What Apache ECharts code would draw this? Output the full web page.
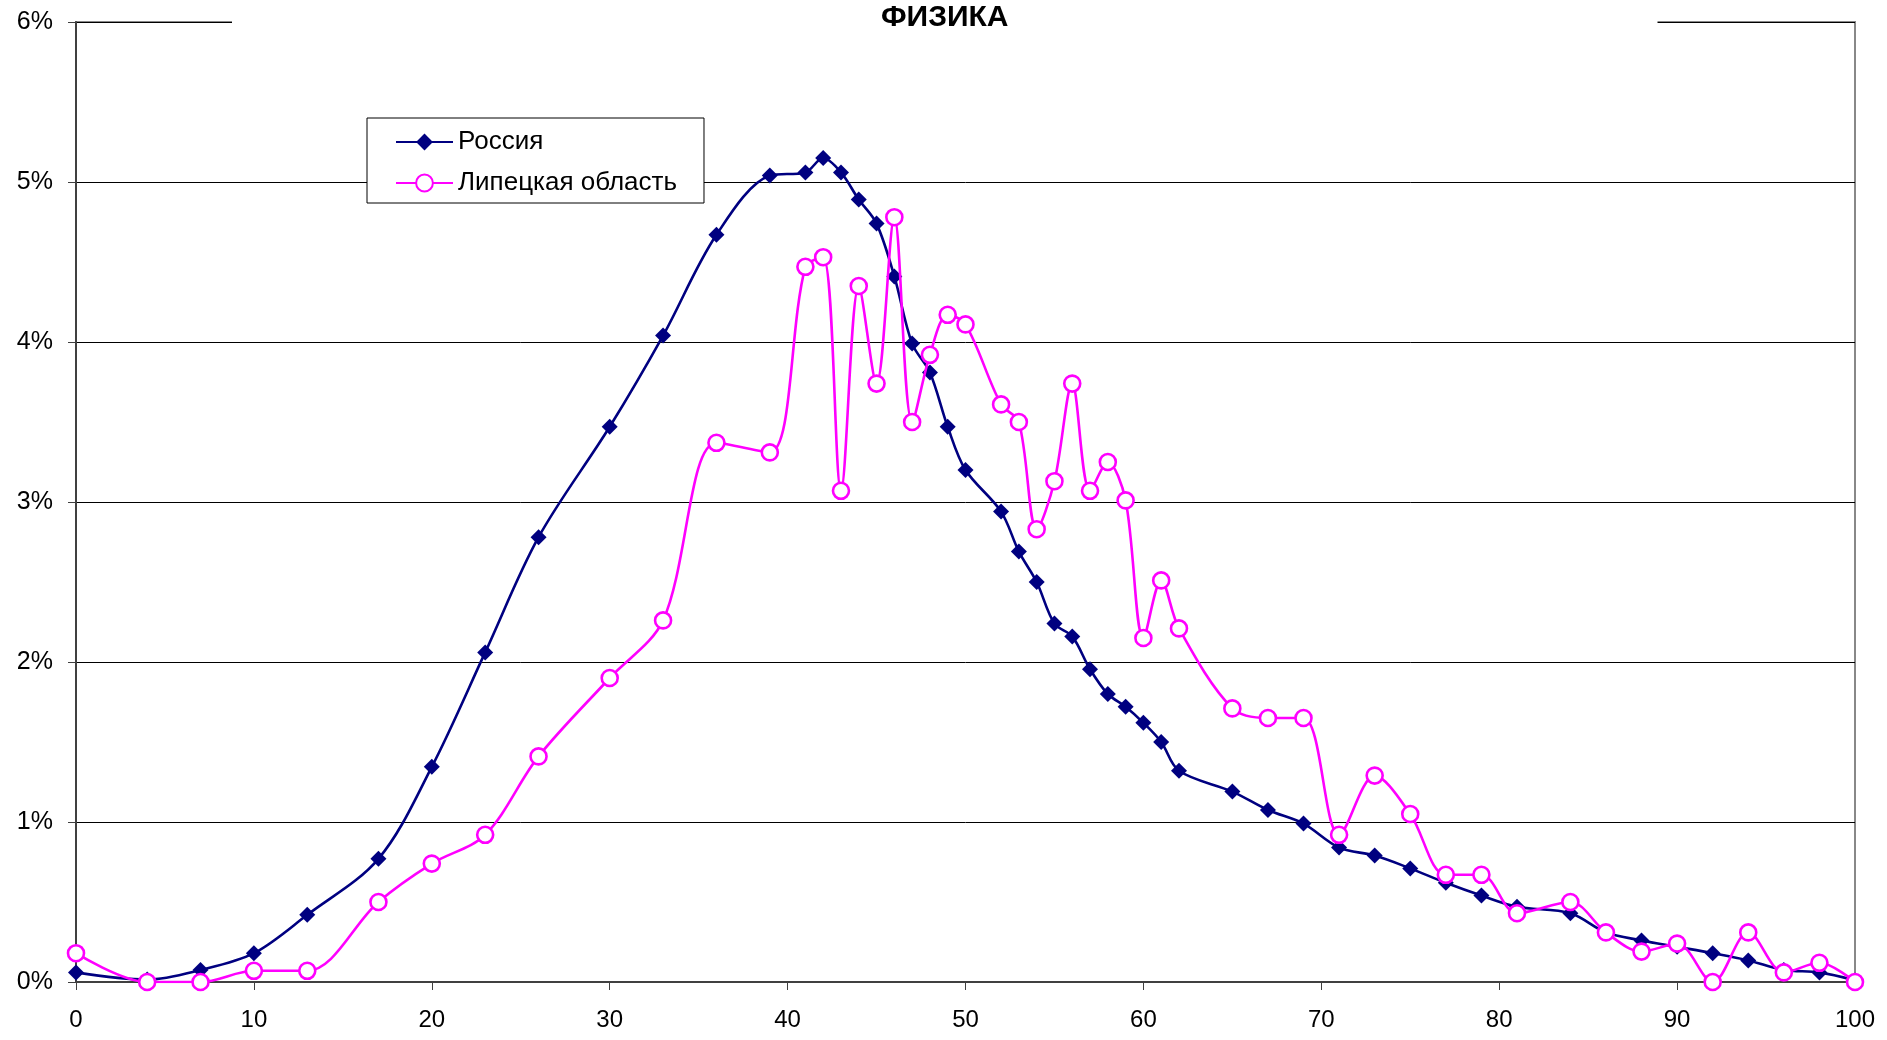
<!DOCTYPE html>
<html>
<head>
<meta charset="utf-8">
<script src="https://cdn.jsdelivr.net/npm/echarts@6/dist/echarts.min.js"></script>
<style>
html,body{margin:0;padding:0;background:#fff;}
#chart{width:1887px;height:1040px;}
</style>
</head>
<body>
<div id="chart"></div>
<script>
const titleText = 'ФИЗИКА';
const seriesNames = ['Россия', 'Липецкая область'];
const scores = [0, 4, 7, 10, 13, 17, 20, 23, 26, 30, 33, 36, 39, 41, 42, 43, 44, 45, 46, 47, 48, 49, 50, 52, 53, 54, 55, 56, 57, 58, 59, 60, 61, 62, 65, 67, 69, 71, 73, 75, 77, 79, 81, 84, 86, 88, 90, 92, 94, 96, 98, 100];
const russia = [0.06, 0.015, 0.075, 0.18, 0.42, 0.77, 1.345, 2.06, 2.78, 3.47, 4.04, 4.67, 5.04, 5.06, 5.15, 5.06, 4.89, 4.74, 4.41, 3.99, 3.81, 3.47, 3.20, 2.94, 2.69, 2.50, 2.24, 2.16, 1.955, 1.80, 1.72, 1.62, 1.50, 1.32, 1.19, 1.075, 0.99, 0.84, 0.79, 0.71, 0.62, 0.54, 0.47, 0.43, 0.31, 0.26, 0.22, 0.18, 0.135, 0.075, 0.06, 0.01];
const lipetsk = [0.18, 0.0, 0.0, 0.07, 0.07, 0.50, 0.74, 0.92, 1.41, 1.90, 2.26, 3.37, 3.31, 4.47, 4.53, 3.07, 4.35, 3.74, 4.78, 3.50, 3.92, 4.17, 4.11, 3.61, 3.50, 2.83, 3.13, 3.74, 3.07, 3.25, 3.01, 2.15, 2.51, 2.21, 1.71, 1.65, 1.65, 0.92, 1.29, 1.05, 0.67, 0.67, 0.43, 0.50, 0.31, 0.19, 0.24, 0.0, 0.31, 0.06, 0.12, 0.0];
const xTicks = {min: 0, max: 100, interval: 10};
const yTicks = {min: 0, max: 6, interval: 1};

const FONT = '"Liberation Sans", Arial, sans-serif';
const chart = echarts.init(document.getElementById('chart'));
const zip = (xs, ys) => xs.map((x, i) => [x, ys[i]]);

chart.setOption({
  animation: false,
  backgroundColor: '#fff',
  textStyle: {fontFamily: FONT},
  title: {
    text: titleText,
    left: 232,
    top: 0,
    padding: [2, 649],
    backgroundColor: '#fff',
    textStyle: {fontFamily: FONT, fontSize: 30, fontWeight: 'bold', color: '#000', lineHeight: 32}
  },
  legend: {
    orient: 'vertical',
    left: 367,
    top: 118,
    padding: [10, 27, 6, 28],
    itemGap: 13,
    itemWidth: 57,
    itemHeight: 21,
    backgroundColor: '#fff',
    borderColor: '#000',
    borderWidth: 1,
    textStyle: {fontFamily: FONT, fontSize: 26, color: '#000', lineHeight: 28},
    data: seriesNames
  },
  grid: {
    left: 76, right: 32, top: 22, bottom: 58,
    show: true,
    borderColor: '#888',
    borderWidth: 2,
    backgroundColor: '#fff'
  },
  xAxis: {
    type: 'value',
    min: xTicks.min, max: xTicks.max, interval: xTicks.interval,
    axisLine: {show: true, lineStyle: {color: '#404040', width: 2}},
    axisTick: {show: true, length: 8, inside: false, lineStyle: {color: '#404040', width: 1}},
    axisLabel: {fontFamily: FONT, fontSize: 24, color: '#000', margin: 26},
    splitLine: {show: false}
  },
  yAxis: {
    type: 'value',
    min: yTicks.min, max: yTicks.max, interval: yTicks.interval,
    axisLine: {show: true, lineStyle: {color: '#404040', width: 2}},
    axisTick: {show: true, length: 8, inside: false, lineStyle: {color: '#404040', width: 1}},
    axisLabel: {fontFamily: FONT, fontSize: 25, color: '#000', margin: 23, formatter: '{value}%'},
    splitLine: {show: true, lineStyle: {color: '#000', width: 1}}
  },
  series: [
    {
      name: seriesNames[0],
      type: 'line',
      data: zip(scores, russia),
      smooth: 0.33,
      symbol: 'diamond',
      symbolSize: 16,
      showAllSymbol: true,
      lineStyle: {color: '#000080', width: 2.6},
      itemStyle: {color: '#000080'},
      z: 3
    },
    {
      name: seriesNames[1],
      type: 'line',
      data: zip(scores, lipetsk),
      smooth: 0.33,
      symbol: 'circle',
      symbolSize: 16,
      showAllSymbol: true,
      lineStyle: {color: '#FF00FF', width: 2.6},
      itemStyle: {color: '#fff', borderColor: '#FF00FF', borderWidth: 2.6},
      z: 4
    }
  ]
});
</script>
</body>
</html>
